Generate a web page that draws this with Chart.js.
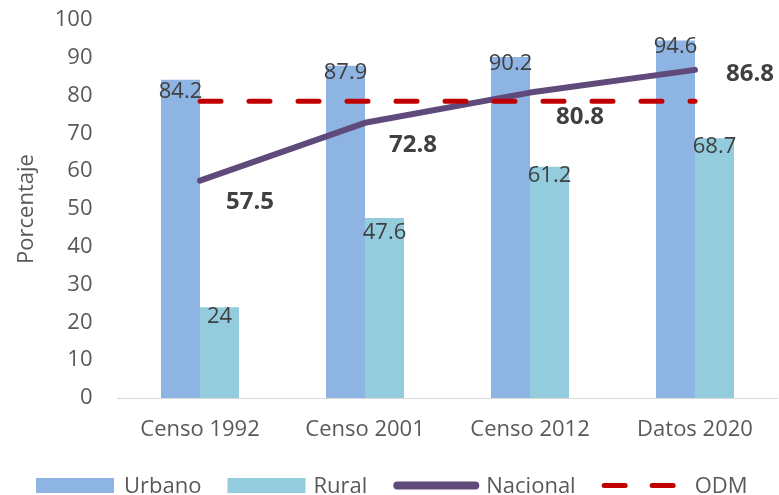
<!DOCTYPE html>
<html>
<head>
<meta charset="utf-8">
<script src="https://cdn.jsdelivr.net/npm/chart.js@4.4.1/dist/chart.umd.min.js"></script>
<style>
  body { margin: 0; background: #fff; }
  #wrap { width: 779px; height: 495px; }
</style>
</head>
<body>
<div id="wrap"><canvas id="myChart" width="779" height="495"></canvas></div>
<script>
var categories = ['Censo 1992', 'Censo 2001', 'Censo 2012', 'Datos 2020'];
var urbano = [84.2, 87.9, 90.2, 94.6];
var rural = [24, 47.6, 61.2, 68.7];
var nacional = [57.5, 72.8, 80.8, 86.8];
var odm = [78.5, 78.5, 78.5, 78.5];
var yMin = 0, yMax = 100, yStep = 10;

var FONT = "'Open Sans', 'Noto Sans', sans-serif";

// etiquetas de datos (posicion parecida a Excel)
var labelPlugin = {
  id: 'labels',
  afterDatasetsDraw: function(chart) {
    var ctx = chart.ctx;
    ctx.save();
    ctx.textAlign = 'center';
    ctx.textBaseline = 'alphabetic';
    ctx.fillStyle = '#404040';

    function put(text, x, cy, size) {
      ctx.fillText(text, x, cy + 0.357 * size);
    }

    ctx.font = '22px ' + FONT;
    var urbDy = [10, 5, 5, 5];
    chart.getDatasetMeta(0).data.forEach(function(bar, i) {
      put(String(urbano[i]), bar.x, bar.y + urbDy[i], 22);
    });
    var rurDy = [8, 13, 7, 7];
    chart.getDatasetMeta(1).data.forEach(function(bar, i) {
      put(String(rural[i]), bar.x, bar.y + rurDy[i], 22);
    });

    ctx.font = 'bold 24px ' + FONT;
    var nDx = [50, 48, 50, 55];
    var nDy = [20, 21, 23, 3];
    chart.getDatasetMeta(2).data.forEach(function(pt, i) {
      put(String(nacional[i]), pt.x + nDx[i], pt.y + nDy[i], 24);
    });
    ctx.restore();
  }
};

// leyenda dibujada a mano
var legendPlugin = {
  id: 'myLegend',
  afterDraw: function(chart) {
    var ctx = chart.ctx;
    ctx.save();
    ctx.font = '22px ' + FONT;
    ctx.textBaseline = 'alphabetic';
    ctx.textAlign = 'left';
    var cy = 485.5;
    var items = [
      { text: 'Urbano', type: 'box', color: '#8EB4E3', gap: 10 },
      { text: 'Rural', type: 'box', color: '#93CDDD', gap: 8 },
      { text: 'Nacional', type: 'line', color: '#604A7B', gap: 7 },
      { text: 'ODM', type: 'dash', color: '#C00000', gap: 15 }
    ];
    var x = 36;
    items.forEach(function(it) {
      if (it.type === 'box') {
        ctx.fillStyle = it.color;
        ctx.fillRect(x, cy - 7.5, 78, 15);
      } else if (it.type === 'line') {
        ctx.strokeStyle = it.color;
        ctx.lineWidth = 8;
        ctx.lineCap = 'round';
        ctx.beginPath();
        ctx.moveTo(x + 4, cy);
        ctx.lineTo(x + 82, cy);
        ctx.stroke();
      } else {
        ctx.strokeStyle = it.color;
        ctx.lineWidth = 5;
        ctx.lineCap = 'round';
        ctx.setLineDash([21, 27]);
        ctx.beginPath();
        ctx.moveTo(x + 2.5, cy);
        ctx.lineTo(x + 76, cy);
        ctx.stroke();
        ctx.setLineDash([]);
      }
      var w = it.type === 'line' ? 86 : 78;
      var tx = x + w + it.gap;
      ctx.fillStyle = '#595959';
      ctx.fillText(it.text, tx, cy + 0.357 * 22);
      x = tx + ctx.measureText(it.text).width + 26;
    });
    ctx.restore();
  }
};

var ctx = document.getElementById('myChart').getContext('2d');
var myChart = new Chart(ctx, {
  data: {
    labels: categories,
    datasets: [
      {
        type: 'bar',
        label: 'Urbano',
        data: urbano,
        backgroundColor: '#8EB4E3',
        categoryPercentage: 0.473,
        barPercentage: 1,
        order: 3
      },
      {
        type: 'bar',
        label: 'Rural',
        data: rural,
        backgroundColor: '#93CDDD',
        categoryPercentage: 0.473,
        barPercentage: 1,
        order: 3
      },
      {
        type: 'line',
        label: 'Nacional',
        data: nacional,
        borderColor: '#604A7B',
        backgroundColor: '#604A7B',
        borderWidth: 6,
        borderCapStyle: 'round',
        borderJoinStyle: 'round',
        pointRadius: 0,
        tension: 0,
        order: 2
      },
      {
        type: 'line',
        label: 'ODM',
        data: odm,
        borderColor: '#C00000',
        backgroundColor: '#C00000',
        borderWidth: 5,
        borderDash: [21, 28],
        borderCapStyle: 'round',
        pointRadius: 0,
        tension: 0,
        order: 1
      }
    ]
  },
  plugins: [labelPlugin, legendPlugin],
  options: {
    responsive: false,
    animation: false,
    layout: { padding: { top: 20, right: 1.5, bottom: 0, left: 0 } },
    plugins: {
      legend: { display: false },
      tooltip: { enabled: false }
    },
    scales: {
      x: {
        grid: { display: false, drawTicks: false },
        border: { display: true, color: '#D9D9D9', width: 1 },
        ticks: {
          color: '#595959',
          font: { family: FONT, size: 22 },
          padding: 19,
          maxRotation: 0
        },
        afterFit: function(scale) { scale.height = 97; }
      },
      y: {
        min: yMin,
        max: yMax,
        grid: { display: false, drawTicks: false },
        border: { display: false },
        ticks: {
          stepSize: yStep,
          color: '#595959',
          font: { family: FONT, size: 22 },
          padding: 25
        },
        title: {
          display: true,
          text: 'Porcentaje',
          color: '#595959',
          font: { family: FONT, size: 22 },
          padding: { top: 14, bottom: 0 }
        },
        afterFit: function(scale) {
          scale.width = 117.5;
          scale.paddingTop = 0;
          scale.paddingBottom = 0;
        }
      }
    }
  }
});
</script>
</body>
</html>
